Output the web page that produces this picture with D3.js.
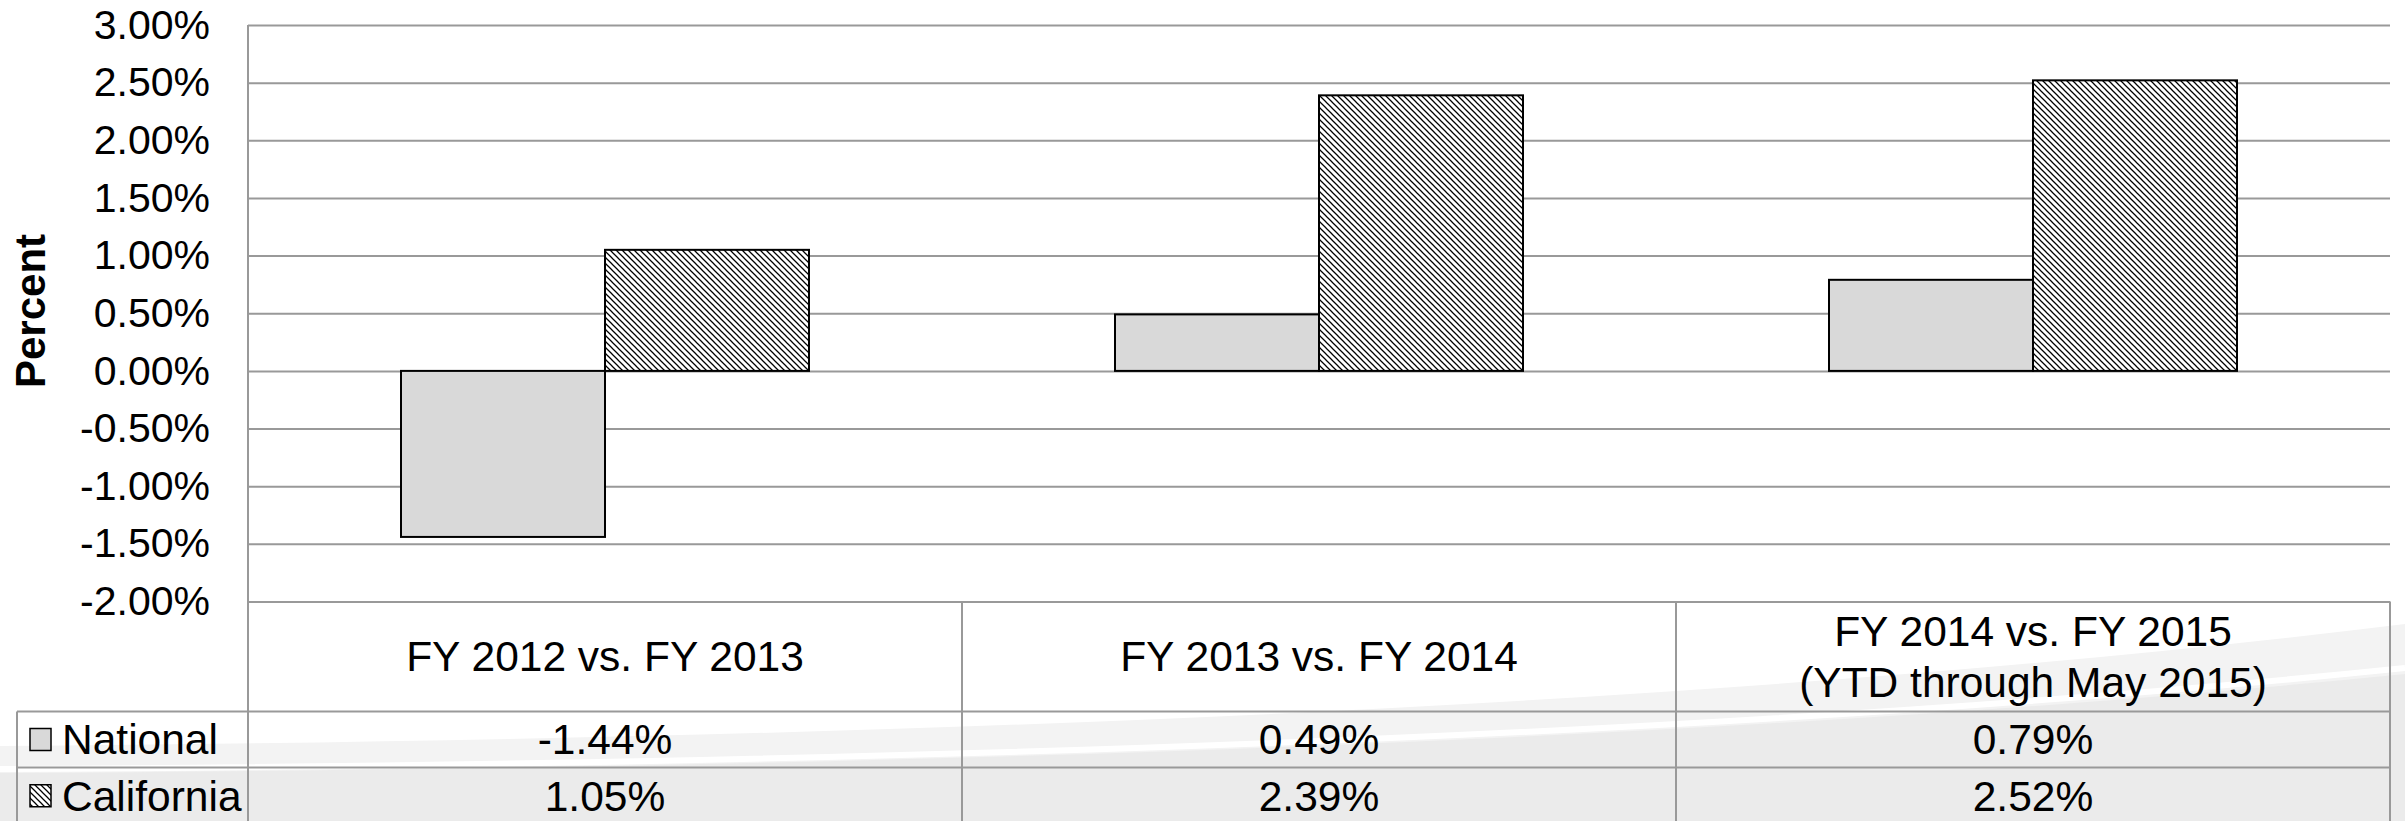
<html>
<title>National vs California</title>
<script src="https://d3js.org/d3.v7.min.js"></script>
<style>
body { margin: 0; background: #fff; }
svg { display: block; font-family: "Liberation Sans", Arial, sans-serif; }
.grid line { stroke: #999; stroke-width: 2; }
.tbl { stroke: #999; stroke-width: 2; }
</style>
<body>
<svg width="2405" height="821"></svg>
<script>

var categories = ["FY 2012 vs. FY 2013", "FY 2013 vs. FY 2014", "FY 2014 vs. FY 2015\n(YTD through May 2015)"];
var seriesNames = ["National", "California"];
var national = [-1.44, 0.49, 0.79];
var california = [1.05, 2.39, 2.52];
var tickValues = [3, 2.5, 2, 1.5, 1, 0.5, 0, -0.5, -1, -1.5, -2];

var svg = d3.select("svg");
var W = 2405, H = 821;
var plotL = 248, plotR = 2390, plotT = 25, plotB = 601.5;
var rowTops = [711.5, 767.5, 824];
var tblFont = 42.5;

var y = d3.scaleLinear().domain([-2, 3]).range([plotB, plotT]);
var x = d3.scaleBand().domain(categories).range([plotL, plotR]);
var xs = d3.scaleBand().domain(seriesNames).range([0, x.bandwidth()]).paddingOuter(0.75);

// hatch pattern for California
var defs = svg.append("defs");
var pat = defs.append("pattern").attr("id", "hatch")
  .attr("patternUnits", "userSpaceOnUse").attr("width", 6).attr("height", 6);
pat.append("rect").attr("width", 6).attr("height", 6).attr("fill", "#fff");
pat.append("path").attr("d", "M-1,-1 L7,7 M-1,5 L1,7 M5,-1 L7,1")
  .attr("stroke", "#000").attr("stroke-width", 1.25);

var fills = { "National": "#d9d9d9", "California": "url(#hatch)" };

// background swoosh
svg.append("path")
  .attr("d", "M0,746 Q1500,735 2405,624 L2405,821 L0,821 Z")
  .attr("fill", "#f3f3f3");
svg.append("path")
  .attr("d", "M0,773 Q1500,765 2405,674 L2405,821 L0,821 Z")
  .attr("fill", "#ebebeb");
svg.append("path")
  .attr("d", "M0,769 Q1500,761 2405,668")
  .attr("fill", "none").attr("stroke", "#fff").attr("stroke-width", 6);

// plot background
svg.append("rect").attr("x", plotL).attr("y", plotT).attr("width", plotR - plotL)
  .attr("height", plotB - plotT).attr("fill", "#fff");

// gridlines and tick labels
var yAxis = d3.axisLeft(y).tickValues(tickValues).tickSize(-(plotR - plotL))
  .tickFormat(function (d) { return d.toFixed(2) + "%"; });
var g = svg.append("g").attr("class", "grid").attr("transform", "translate(" + plotL + ",0)").call(yAxis);
g.select(".domain").remove();
g.selectAll("text").attr("x", -38).attr("font-size", 41)
  .attr("font-family", "Liberation Sans, Arial, sans-serif").attr("fill", "#000");

// bars
var data = [];
categories.forEach(function (c, i) {
  data.push({ cat: c, s: "National", v: national[i] });
  data.push({ cat: c, s: "California", v: california[i] });
});
svg.selectAll("rect.bar").data(data).enter().append("rect").attr("class", "bar")
  .attr("x", function (d) { return x(d.cat) + xs(d.s); })
  .attr("width", xs.bandwidth())
  .attr("y", function (d) { return y(Math.max(0, d.v)); })
  .attr("height", function (d) { return Math.abs(y(d.v) - y(0)); })
  .attr("fill", function (d) { return fills[d.s]; })
  .attr("stroke", "#000").attr("stroke-width", 2);

// data table lines
var t = svg.append("g");
t.append("line").attr("class", "tbl").attr("x1", plotL).attr("x2", plotL).attr("y1", plotT).attr("y2", H);
x.domain().slice(1).forEach(function (c) {
  t.append("line").attr("class", "tbl").attr("x1", x(c)).attr("x2", x(c)).attr("y1", plotB).attr("y2", H);
});
t.append("line").attr("class", "tbl").attr("x1", plotR).attr("x2", plotR).attr("y1", plotB).attr("y2", H);
t.append("line").attr("class", "tbl").attr("x1", 17).attr("x2", 17).attr("y1", rowTops[0]).attr("y2", H);
rowTops.slice(0, 2).forEach(function (r) {
  t.append("line").attr("class", "tbl").attr("x1", 17).attr("x2", plotR).attr("y1", r).attr("y2", r);
});

// header labels
categories.forEach(function (c) {
  var lines = c.split("\n");
  var cy = (plotB + rowTops[0]) / 2;
  var txt = t.append("text").attr("text-anchor", "middle").attr("font-size", tblFont)
    .attr("x", x(c) + x.bandwidth() / 2);
  lines.forEach(function (l, k) {
    txt.append("tspan").attr("x", x(c) + x.bandwidth() / 2)
      .attr("y", cy + (k - (lines.length - 1) / 2) * 51)
      .attr("dy", "0.35em").text(l);
  });
});

// value rows with legend keys
[national, california].forEach(function (vals, r) {
  var cy = (rowTops[r] + rowTops[r + 1]) / 2;
  t.append("rect").attr("x", 30).attr("y", cy - 11).attr("width", 21).attr("height", 22)
    .attr("fill", fills[seriesNames[r]]).attr("stroke", "#000").attr("stroke-width", 1.5);
  t.append("text").attr("x", 62).attr("y", cy).attr("dy", "0.35em").attr("font-size", tblFont)
    .text(seriesNames[r]);
  vals.forEach(function (v, i) {
    t.append("text").attr("text-anchor", "middle").attr("font-size", tblFont)
      .attr("x", x(categories[i]) + x.bandwidth() / 2).attr("y", cy).attr("dy", "0.35em")
      .text(v.toFixed(2) + "%");
  });
});

// y title
svg.append("text").attr("transform", "translate(45,311) rotate(-90)")
  .attr("text-anchor", "middle").attr("font-size", 42).attr("font-weight", "bold")
  .text("Percent");

</script>
</body>
</html>
